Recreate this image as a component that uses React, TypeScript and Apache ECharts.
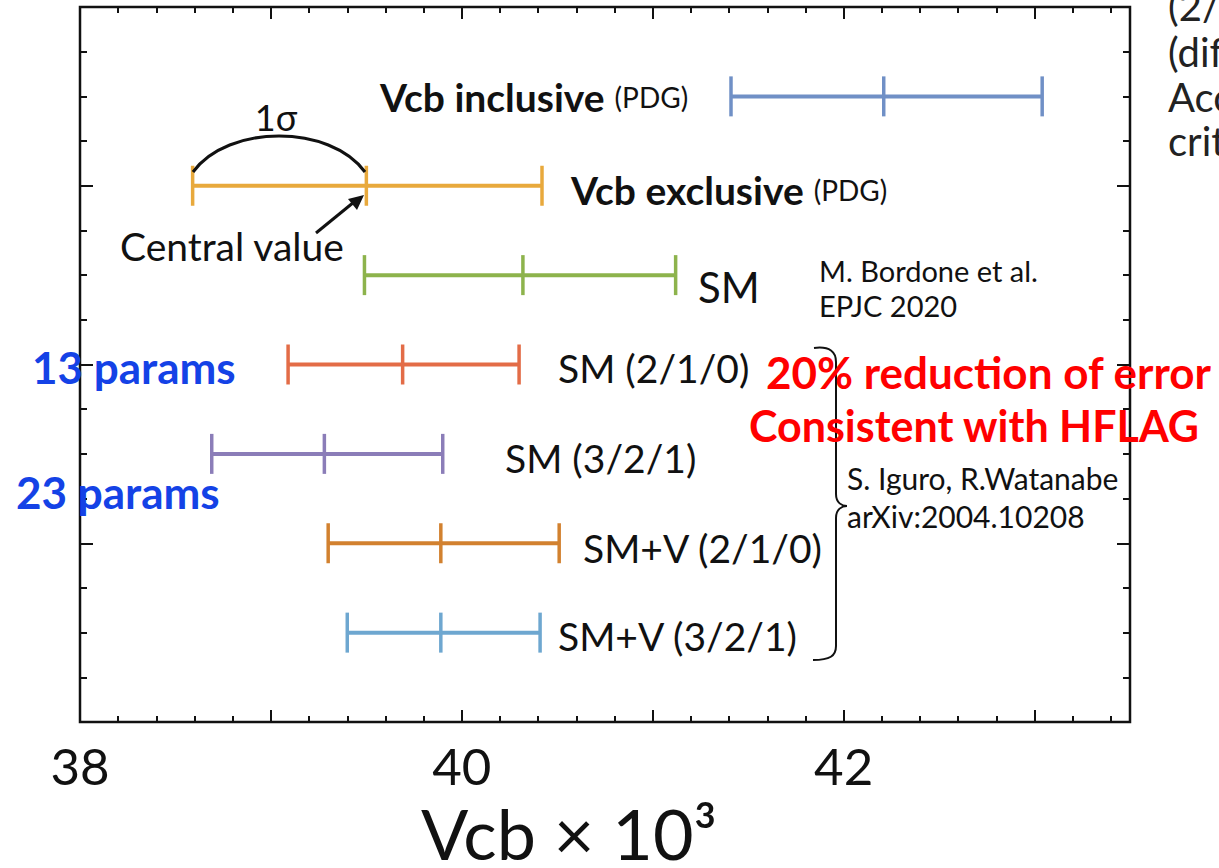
import React, { useEffect, useRef } from "react";
import * as echarts from "echarts";

const ROW_NAMES = ["Vcb inclusive", "Vcb exclusive", "SM", "SM (2/1/0)", "SM (3/2/1)", "SM+V (2/1/0)", "SM+V (3/2/1)"];
const ROW_POS = [14, 12, 10, 8, 6, 4, 2];
const LOW = [41.41, 38.59, 39.49, 39.09, 38.69, 39.3, 39.4];
const CENTER = [42.21, 39.5, 40.32, 39.69, 39.28, 39.89, 39.89];
const HIGH = [43.04, 40.42, 41.12, 40.3, 39.9, 40.51, 40.41];
const COLORS = ["#7090c6", "#e8a93c", "#8db34c", "#e36c47", "#8b7db8", "#d2812f", "#6ea7d0"];
const X_LABELS = [38, 40, 42];

const FONT = "Lato";

export default function App() {
  const ref = useRef<HTMLDivElement>(null);
  useEffect(() => {
    const chart = echarts.init(ref.current!, null, { renderer: "svg" });
    const data = ROW_NAMES.map((n, i) => ({ name: n, value: [CENTER[i], ROW_POS[i], LOW[i], HIGH[i]] }));
    const txt = (text: string, x: number, y: number, size: number, opts: any = {}) => ({
      type: "text",
      x,
      y,
      z: 100,
      style: {
        text,
        fontSize: size,
        fontFamily: FONT,
        fontWeight: opts.bold ? "bold" : "normal",
        fill: opts.color || "#111",
        align: opts.align || "left",
        verticalAlign: "middle",
        rich: opts.rich,
      },
    });
    const rowRich = {
      b: { fontSize: 39, fontWeight: "bold", fontFamily: FONT, fill: "#111" },
      n: { fontSize: 28, fontFamily: FONT, fill: "#111" },
    };
    const xMajor = (pos: string) => ({
      type: "value",
      position: pos,
      min: 38,
      max: 43.5,
      interval: 1,
      axisLine: { show: false },
      splitLine: { show: false },
      axisTick: { show: true, inside: true, length: 12, lineStyle: { color: "#111", width: 2 } },
      axisLabel: pos === "bottom"
        ? {
            show: true,
            margin: 18,
            fontSize: 51,
            fontFamily: FONT,
            color: "#111",
            formatter: (v: number) => (X_LABELS.indexOf(Math.round(v * 100) / 100) >= 0 ? String(Math.round(v)) : ""),
          }
        : { show: false },
    });
    const xMinor = (pos: string) => ({
      type: "value",
      position: pos,
      min: 38,
      max: 43.5,
      interval: 0.2,
      axisLine: { show: false },
      splitLine: { show: false },
      axisTick: { show: true, inside: true, length: 6, lineStyle: { color: "#111", width: 2 } },
      axisLabel: { show: false },
    });
    const yAx = (pos: string) => ({
      type: "value",
      position: pos,
      min: 0,
      max: 16,
      interval: 4,
      axisLine: { show: false },
      splitLine: { show: false },
      axisLabel: { show: false },
      axisTick: { show: true, inside: true, length: 13, lineStyle: { color: "#111", width: 2 } },
      minorTick: { show: true, splitNumber: 4, length: 7, lineStyle: { color: "#111", width: 2 } },
    });
    chart.setOption({
      animation: false,
      backgroundColor: "#fff",
      grid: {
        left: 80,
        top: 7,
        right: 89,
        bottom: 146,
        show: true,
        borderColor: "#111",
        borderWidth: 2.5,
        outerBoundsMode: "none",
      },
      xAxis: [xMajor("bottom"), xMinor("bottom"), xMajor("top"), xMinor("top")],
      yAxis: [yAx("left"), yAx("right")],
      series: [
        {
          type: "custom",
          xAxisIndex: 0,
          yAxisIndex: 0,
          encode: { x: [0, 2, 3], y: 1 },
          data,
          renderItem: (params: any, api: any) => {
            const y = api.value(1);
            const pc = api.coord([api.value(0), y]);
            const pl = api.coord([api.value(2), y]);
            const ph = api.coord([api.value(3), y]);
            const color = COLORS[params.dataIndex];
            const h = 20;
            const cap = (p: number[]) => ({
              type: "line",
              shape: { x1: p[0], y1: p[1] - h, x2: p[0], y2: p[1] + h },
              style: { stroke: color, lineWidth: 3.5 },
            });
            return {
              type: "group",
              children: [
                { type: "line", shape: { x1: pl[0], y1: pl[1], x2: ph[0], y2: ph[1] }, style: { stroke: color, lineWidth: 4 } },
                cap(pl),
                cap(pc),
                cap(ph),
              ],
            };
          },
        },
      ],
      graphic: [
        txt("{b|Vcb inclusive} {n|(PDG)}", 380, 97, 39, { rich: rowRich }),
        txt("{b|Vcb exclusive} {n|(PDG)}", 571, 190, 39, { rich: rowRich }),
        txt("SM", 698, 287, 42),
        txt("M. Bordone et al.", 819, 270, 29),
        txt("EPJC 2020", 819, 305, 29),
        txt("SM (2/1/0)", 558, 368, 39),
        txt("SM (3/2/1)", 505, 458, 39),
        txt("SM+V (2/1/0)", 583, 548, 39),
        txt("SM+V (3/2/1)", 558, 636, 39),
        txt("S. Iguro, R.Watanabe", 847, 478, 30),
        txt("arXiv:2004.10208", 847, 516, 30),
        txt("1σ", 276, 117, 36, { align: "center" }),
        txt("Central value", 120, 246, 39),
        {
          type: "bezierCurve",
          z: 90,
          shape: { x1: 193, y1: 172, x2: 365, y2: 172, cpx1: 228, cpy1: 124, cpx2: 330, cpy2: 124 },
          style: { stroke: "#111", lineWidth: 3, fill: null },
        },
        { type: "line", z: 90, shape: { x1: 316, y1: 233, x2: 354, y2: 202 }, style: { stroke: "#111", lineWidth: 3 } },
        { type: "polygon", z: 90, shape: { points: [[364, 195], [357, 210], [348, 199]] }, style: { fill: "#111" } },
        {
          type: "group",
          z: 90,
          children: [
            { type: "bezierCurve", shape: { x1: 814, y1: 348, x2: 836, y2: 362, cpx1: 830, cpy1: 346, cpx2: 836, cpy2: 352 }, style: { stroke: "#111", lineWidth: 2, fill: null } },
            { type: "line", shape: { x1: 836, y1: 362, x2: 836, y2: 494 }, style: { stroke: "#111", lineWidth: 2 } },
            { type: "bezierCurve", shape: { x1: 836, y1: 494, x2: 847, y2: 506, cpx1: 836, cpy1: 503, cpx2: 842, cpy2: 506 }, style: { stroke: "#111", lineWidth: 2, fill: null } },
            { type: "bezierCurve", shape: { x1: 847, y1: 506, x2: 836, y2: 518, cpx1: 842, cpy1: 506, cpx2: 836, cpy2: 509 }, style: { stroke: "#111", lineWidth: 2, fill: null } },
            { type: "line", shape: { x1: 836, y1: 518, x2: 836, y2: 646 }, style: { stroke: "#111", lineWidth: 2 } },
            { type: "bezierCurve", shape: { x1: 836, y1: 646, x2: 813, y2: 660, cpx1: 836, cpy1: 656, cpx2: 830, cpy2: 660 }, style: { stroke: "#111", lineWidth: 2, fill: null } },
          ],
        },
        txt("20% reduction of error", 766, 372, 44, { bold: true, color: "#ff0000" }),
        txt("Consistent with HFLAG", 749, 425, 43, { bold: true, color: "#ff0000" }),
        txt("13 params", 32, 367, 44, { bold: true, color: "#1442e6" }),
        txt("23 params", 16, 492, 44, { bold: true, color: "#1442e6" }),
        txt("(2/", 1168, 6, 40, { color: "#222" }),
        txt("(dif", 1168, 52, 40, { color: "#222" }),
        txt("Acc", 1168, 97, 40, { color: "#222" }),
        txt("crit", 1168, 141, 40, { color: "#222" }),
        txt("Vcb × 10³", 569, 833, 70, { align: "center" }),
      ],
    });
    return () => chart.dispose();
  }, []);
  return <div ref={ref} style={{ position: "fixed", left: 0, top: 0, width: 1219, height: 868 }} />;
}
